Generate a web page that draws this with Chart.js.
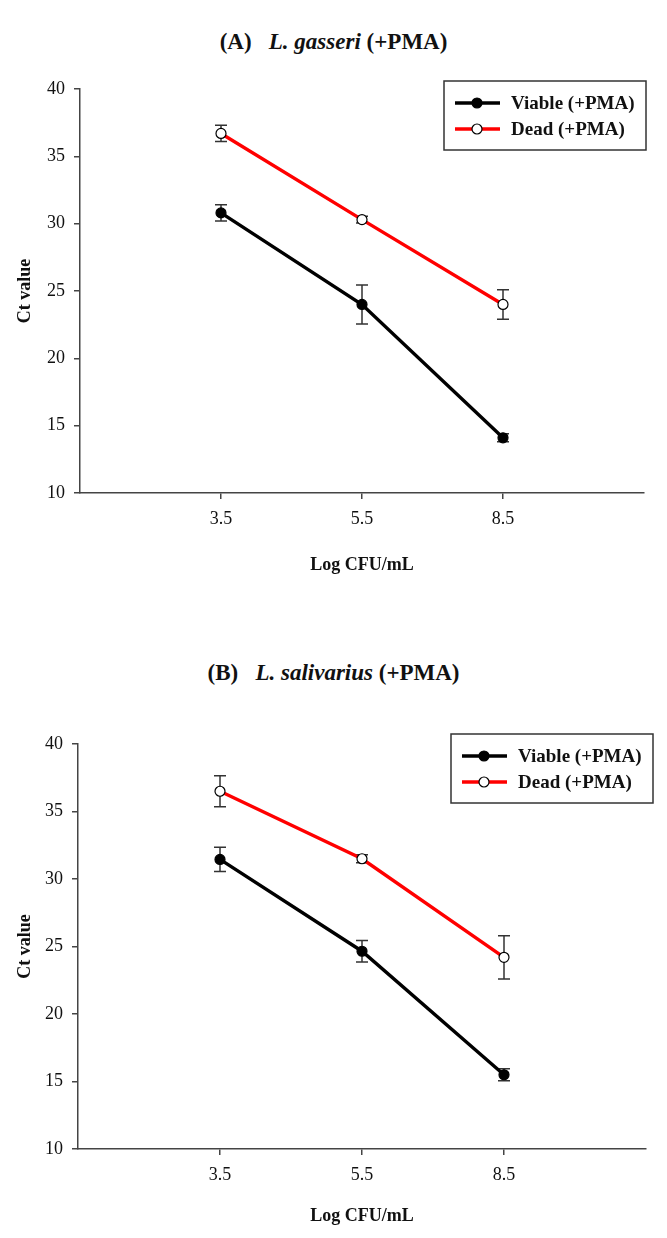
<!DOCTYPE html>
<html>
<head>
<meta charset="utf-8">
<script src="https://cdn.jsdelivr.net/npm/chart.js@4.4.0/dist/chart.umd.min.js"></script>
<style>
    body { margin: 0; background: #fff; width: 667px; height: 1238px; position: relative; overflow: hidden; font-family: "Liberation Serif", serif; }
    .title { position: absolute; left: 0; width: 667px; text-align: center; font-weight: bold; font-size: 23px; color: #111; line-height: 26px; }
    .panel { position: absolute; left: 0; width: 667px; }
</style>
</head>
<body>
<div class="title" style="top:29px">(A)&nbsp;&nbsp; <i>L. gasseri</i> (+PMA)</div>
<div class="panel" style="top:60px"><canvas id="chartA" width="667" height="560"></canvas></div>
<div class="title" style="top:660px">(B)&nbsp;&nbsp; <i>L. salivarius</i> (+PMA)</div>
<div class="panel" style="top:700px"><canvas id="chartB" width="667" height="538"></canvas></div>

<script>
// x categories (Log CFU/mL)
var categories = ["3.5", "5.5", "8.5"];
var yTicks = [10, 15, 20, 25, 30, 35, 40];

// (A) L. gasseri
var viableA = [30.8, 24.0, 14.1];
var viableAErr = [0.6, 1.45, 0.3];
var deadA = [36.7, 30.3, 24.0];
var deadAErr = [0.6, 0.25, 1.1];

// (B) L. salivarius
var viableB = [31.45, 24.65, 15.5];
var viableBErr = [0.9, 0.8, 0.45];
var deadB = [36.5, 31.5, 24.2];
var deadBErr = [1.15, 0.3, 1.6];

var errorBars = {
    id: "errorBars",
    beforeDatasetsDraw: function (chart) {
        var ctx = chart.ctx;
        var yScale = chart.scales.y;
        ctx.save();
        ctx.strokeStyle = "#333";
        ctx.lineWidth = 1.5;
        chart.data.datasets.forEach(function (ds, i) {
            var meta = chart.getDatasetMeta(i);
            meta.data.forEach(function (pt, j) {
                var v = ds.data[j].y;
                var e = ds.errors[j];
                var top = yScale.getPixelForValue(v + e);
                var bot = yScale.getPixelForValue(v - e);
                ctx.beginPath();
                ctx.moveTo(pt.x, top); ctx.lineTo(pt.x, bot);
                ctx.moveTo(pt.x - 6, top); ctx.lineTo(pt.x + 6, top);
                ctx.moveTo(pt.x - 6, bot); ctx.lineTo(pt.x + 6, bot);
                ctx.stroke();
            });
        });
        ctx.restore();
    }
};

var boxLegend = {
    id: "boxLegend",
    afterDraw: function (chart, args, opts) {
        var ctx = chart.ctx;
        var x = opts.x, y = opts.y;
        ctx.save();
        ctx.fillStyle = "#fff";
        ctx.fillRect(x, y, 202, 69);
        ctx.strokeStyle = "#333";
        ctx.lineWidth = 1.5;
        ctx.strokeRect(x, y, 202, 69);
        chart.data.datasets.forEach(function (ds, i) {
            var ry = y + 22 + i * 26;
            ctx.strokeStyle = ds.borderColor;
            ctx.lineWidth = 3.4;
            ctx.beginPath();
            ctx.moveTo(x + 11, ry);
            ctx.lineTo(x + 56, ry);
            ctx.stroke();
            ctx.beginPath();
            ctx.arc(x + 33, ry, 5, 0, Math.PI * 2);
            ctx.fillStyle = ds.pointBackgroundColor;
            ctx.fill();
            ctx.lineWidth = 1.2;
            ctx.strokeStyle = "#000";
            ctx.stroke();
            ctx.fillStyle = "#111";
            ctx.font = "bold 19px 'Liberation Serif'";
            ctx.textBaseline = "middle";
            ctx.fillText(ds.label, x + 67, ry + 1);
        });
        ctx.restore();
    }
};

function points(values) {
    return categories.map(function (c, i) {
        return { x: i + 1, y: values[i] };
    });
}

function drawChart(canvasId, viable, viableErr, dead, deadErr, box) {
    var ctx = document.getElementById(canvasId).getContext("2d");
    new Chart(ctx, {
        type: "line",
        data: {
            datasets: [
                {
                    label: "Viable (+PMA)",
                    data: points(viable),
                    errors: viableErr,
                    borderColor: "#000",
                    borderWidth: 3.4,
                    pointBackgroundColor: "#000",
                    pointBorderColor: "#000",
                    pointBorderWidth: 1.2,
                    pointRadius: 5,
                    tension: 0
                },
                {
                    label: "Dead (+PMA)",
                    data: points(dead),
                    errors: deadErr,
                    borderColor: "#ff0000",
                    borderWidth: 3.4,
                    pointBackgroundColor: "#fff",
                    pointBorderColor: "#000",
                    pointBorderWidth: 1.2,
                    pointRadius: 5,
                    tension: 0
                }
            ]
        },
        options: {
            responsive: false,
            animation: false,
            events: [],
            layout: { padding: { top: box.padTop, right: box.padRight, left: 0, bottom: 0 } },
            scales: {
                x: {
                    type: "linear",
                    min: 0,
                    max: categories.length + 1,
                    afterBuildTicks: function (scale) {
                        scale.ticks = categories.map(function (c, i) { return { value: i + 1 }; });
                    },
                    afterFit: function (scale) { scale.height = box.xHeight; },
                    ticks: {
                        callback: function (value) { return categories[value - 1]; },
                        font: { family: "Liberation Serif", size: 18 },
                        color: "#111",
                        padding: 9,
                        maxRotation: 0
                    },
                    grid: { drawOnChartArea: false, tickLength: 6, color: "#444", lineWidth: 1.5 },
                    border: { color: "#444", width: 1.5 },
                    title: {
                        display: true,
                        text: "Log CFU/mL",
                        font: { family: "Liberation Serif", size: 18, weight: "bold" },
                        color: "#111",
                        padding: { top: 0, bottom: box.xTitlePad }
                    }
                },
                y: {
                    min: 10,
                    max: 40,
                    afterBuildTicks: function (scale) {
                        scale.ticks = yTicks.map(function (t) { return { value: t }; });
                    },
                    afterFit: function (scale) { scale.width = box.yWidth; },
                    ticks: {
                        font: { family: "Liberation Serif", size: 18 },
                        color: "#111",
                        padding: 9
                    },
                    grid: { drawOnChartArea: false, tickLength: 6, color: "#444", lineWidth: 1.5 },
                    border: { color: "#444", width: 1.5 },
                    title: {
                        display: true,
                        text: "Ct value",
                        font: { family: "Liberation Serif", size: 18, weight: "bold" },
                        color: "#111",
                        padding: { top: 15, bottom: 0 }
                    }
                }
            },
            plugins: {
                legend: { display: false },
                tooltip: { enabled: false },
                boxLegend: { x: box.legendX, y: box.legendY }
            }
        },
        plugins: [errorBars, boxLegend]
    });
}

drawChart("chartA", viableA, viableAErr, deadA, deadAErr,
    { padTop: 29, padRight: 23, xHeight: 127, yWidth: 80, xTitlePad: 44, legendX: 444, legendY: 21 });
drawChart("chartB", viableB, viableBErr, deadB, deadBErr,
    { padTop: 44, padRight: 21, xHeight: 89, yWidth: 78, xTitlePad: 11, legendX: 451, legendY: 34 });
</script>
</body>
</html>
